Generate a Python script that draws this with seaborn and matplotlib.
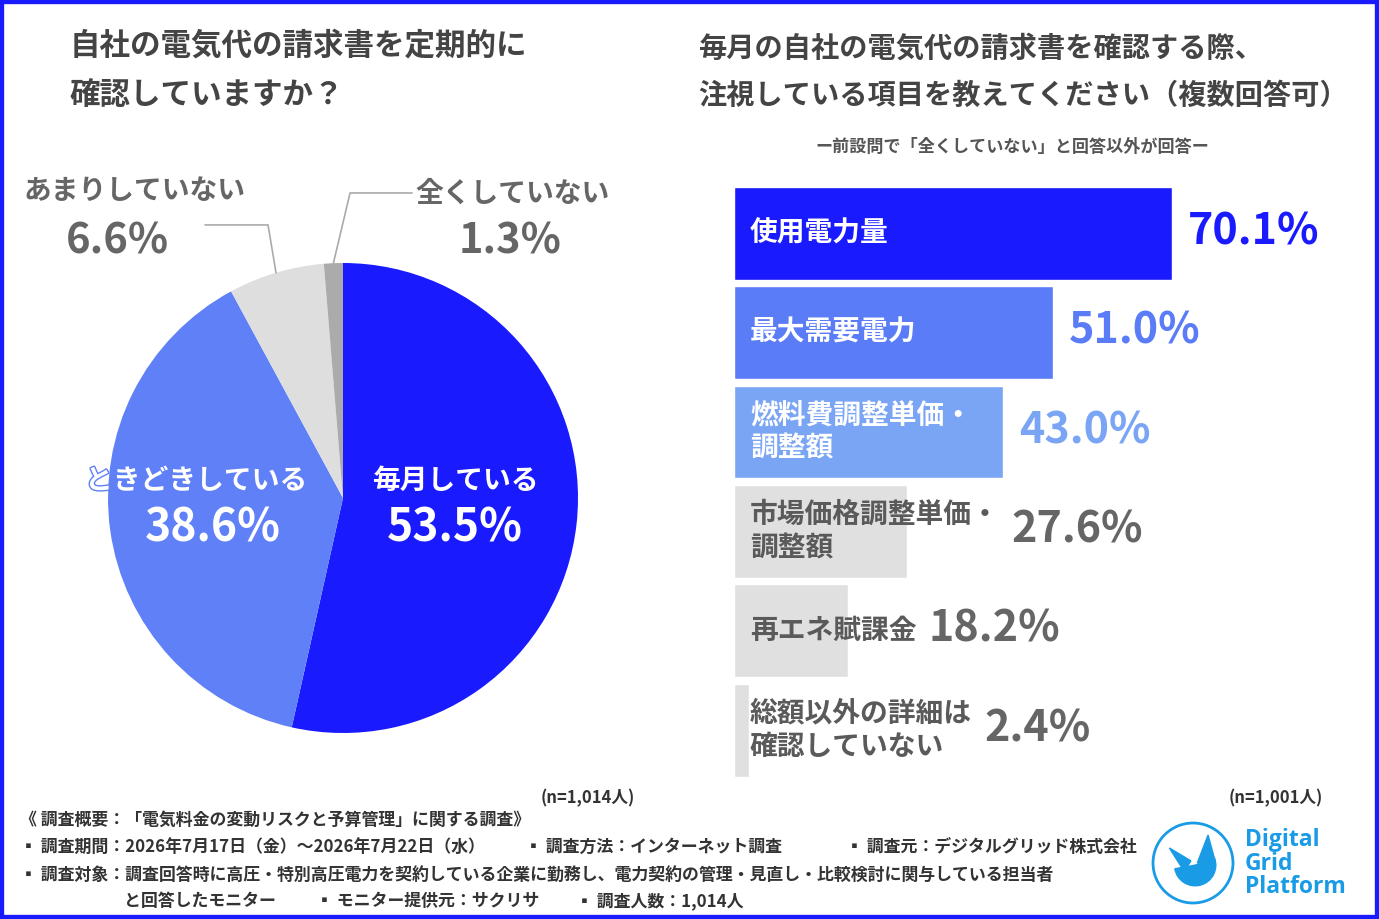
import numpy as np
import pandas as pd
import seaborn as sns
import matplotlib.pyplot as plt
from matplotlib.patches import Rectangle, Circle, Wedge, Polygon
import matplotlib.patheffects as pe

# data
pie_labels = ['毎月している', 'ときどきしている', 'あまりしていない', '全くしていない']
pie_vals = [53.5, 38.6, 6.6, 1.3]
pie_colors = ['#1a1aff', '#5f80f7', '#dedede', '#ababab']

bar_labels = ['使用電力量', '最大需要電力', '燃料費調整単価・\n調整額', '市場価格調整単価・\n調整額',
              '再エネ賦課金', '総額以外の詳細は\n確認していない']
bar_vals = [70.1, 51.0, 43.0, 27.6, 18.2, 2.4]
bar_colors = ['#1a1aff', '#5b7cf7', '#7aa5f5', '#e0e0e0', '#e0e0e0', '#e0e0e0']
bar_txt_colors = ['white', 'white', 'white', '#5a5a5a', '#5a5a5a', '#5a5a5a']
bar_val_colors = ['#1a1aff', '#5b7cf7', '#7aa5f5', '#666666', '#666666', '#666666']

title_left = ['自社の電気代の請求書を定期的に', '確認していますか？']
title_right = ['毎月の自社の電気代の請求書を確認する際、', '注視している項目を教えてください（複数回答可）']
sub_right = 'ー前設問で「全くしていない」と回答以外が回答ー'
n_left = '(n=1,014人)'
n_right = '(n=1,001人)'

sns.set_theme(style='white')
plt.rcParams['font.family'] = ['Noto Sans CJK JP', 'DejaVu Sans']

W, H = 1379, 919
fig = plt.figure(figsize=(W / 100, H / 100), dpi=100)
fig.patch.set_facecolor('white')


def fx(x):
    return x / W


def fy(y):
    return 1 - y / H


def box(x0, y0, x1, y1):
    return [x0 / W, 1 - y1 / H, (x1 - x0) / W, (y1 - y0) / H]


# titles
fig.text(fx(70), fy(46), title_left[0], fontsize=22, weight='bold', color='#444444', va='center')
fig.text(fx(70), fy(95), title_left[1], fontsize=22, weight='bold', color='#444444', va='center')
fig.text(fx(698), fy(49), title_right[0], fontsize=20.3, weight='bold', color='#444444', va='center')
fig.text(fx(698), fy(96), title_right[1], fontsize=20.3, weight='bold', color='#444444', va='center')
fig.text(fx(1012), fy(147), sub_right, fontsize=12.3, weight='bold', color='#555555', ha='center', va='center')

# pie
cx, cy, rad = 343, 498, 235
axp = fig.add_axes(box(cx - rad, cy - rad, cx + rad, cy + rad))
wedges, _ = axp.pie(pie_vals, colors=pie_colors, startangle=90, counterclock=False,
                    radius=1, wedgeprops=dict(linewidth=0))
axp.set_xlim(-1, 1)
axp.set_ylim(-1, 1)
axp.set_aspect('equal')
axp.axis('off')

# leader lines for the small slices
for w, knee, end in [(wedges[2], (-0.319, 1.162), (-0.587, 1.162)),
                     (wedges[3], (0.03, 1.298), (0.294, 1.298))]:
    ang = np.deg2rad((w.theta1 + w.theta2) / 2)
    sx, sy = np.cos(ang), np.sin(ang)
    axp.plot([sx, knee[0], end[0]], [sy, knee[1], end[1]], color='#aaaaaa', lw=1.2, clip_on=False)

big = dict(weight='bold', ha='center', va='center')
fig.text(fx(455), fy(481), pie_labels[0], fontsize=20, weight='bold', color='white', ha='center', va='center')
fig.text(fx(455), fy(529), f'{pie_vals[0]:.1f}%', fontsize=32, color='white', **big)
fig.text(fx(196), fy(481), pie_labels[1], fontsize=20, weight='bold', color='white', ha='center', va='center',
         path_effects=[pe.withStroke(linewidth=2, foreground=pie_colors[1])])
fig.text(fx(213), fy(529), f'{pie_vals[1]:.1f}%', fontsize=32, color='white', **big)
fig.text(fx(134), fy(191), pie_labels[2], fontsize=20, weight='bold', color='#666666', ha='center', va='center')
fig.text(fx(117), fy(241), f'{pie_vals[2]:.1f}%', fontsize=30, color='#666666', **big)
fig.text(fx(513), fy(194), pie_labels[3], fontsize=20, weight='bold', color='#666666', ha='center', va='center')
fig.text(fx(510), fy(242), f'{pie_vals[3]:.1f}%', fontsize=30, color='#666666', **big)

# bars
px_per = 6.25
bx0, by0, bx1 = 734, 183.5, 1379
axb = fig.add_axes(box(bx0, by0, bx1, by0 + 6 * 99.4))
df = pd.DataFrame({'item': bar_labels, 'pct': bar_vals})
sns.barplot(data=df, x='pct', y='item', hue='item', palette=bar_colors, orient='h',
            width=0.935, legend=False, ax=axb, saturation=1)
axb.set_xlim(0, (bx1 - bx0) / px_per)
axb.set_ylim(5.5, -0.5)
axb.axis('off')

txts = []
for i, (lab, c) in enumerate(zip(bar_labels, bar_txt_colors)):
    t = axb.annotate(lab, xy=(0, i), xytext=(16, 0), textcoords='offset pixels', fontsize=20,
                     weight='bold', color=c, va='center', ha='left', linespacing=1.25)
    txts.append(t)

fig.canvas.draw()
rend = fig.canvas.get_renderer()
for i, (t, v, c) in enumerate(zip(txts, bar_vals, bar_val_colors)):
    bb = t.get_window_extent(rend)
    bar_end = axb.transData.transform((v, i))[0]
    if i < 3:
        xd = bar_end + 4
    else:
        xd = max(bar_end, bb.x1)
    xv = axb.transData.inverted().transform((xd + 12, 0))[0]
    axb.annotate(f'{v:.1f}%', xy=(xv, i), xytext=(0, 2), textcoords='offset pixels', fontsize=31,
                 color=c, weight='bold', ha='left', va='center')

# n labels
fig.text(fx(588), fy(798), n_left, fontsize=12, weight='bold', color='#333333', ha='center', va='center')
fig.text(fx(1276), fy(798), n_right, fontsize=12, weight='bold', color='#333333', ha='center', va='center')

# footer
foot = dict(fontsize=12.2, weight='bold', color='#333333', va='center')
fig.text(fx(20), fy(820), '《 調査概要：「電気料金の変動リスクと予算管理」に関する調査》', **foot)
fig.text(fx(20), fy(847), '▪ 調査期間：2026年7月17日（金）〜2026年7月22日（水）', **foot)
fig.text(fx(525), fy(847), '▪ 調査方法：インターネット調査', **foot)
fig.text(fx(846), fy(847), '▪ 調査元：デジタルグリッド株式会社', **foot)
fig.text(fx(20), fy(875), '▪ 調査対象：調査回答時に高圧・特別高圧電力を契約している企業に勤務し、電力契約の管理・見直し・比較検討に関与している担当者', **foot)
fig.text(fx(124), fy(901), 'と回答したモニター', **foot)
fig.text(fx(316), fy(901), '▪ モニター提供元：サクリサ', **foot)
fig.text(fx(576), fy(901), '▪ 調査人数：1,014人', **foot)

# logo
logo_c = '#1a9be6'
axl = fig.add_axes(box(1150, 820, 1236, 906))
axl.set_xlim(-1, 1)
axl.set_ylim(-1, 1)
axl.set_aspect('equal')
axl.axis('off')
axl.add_patch(Circle((0, 0), 0.93, fill=False, edgecolor=logo_c, lw=2))
axl.add_patch(Wedge((0.05, -0.05), 0.48, 190, 20, color=logo_c))
axl.add_patch(Polygon([[-0.55, 0.35], [-0.05, 0.05], [-0.2, -0.2]], color=logo_c))
axl.add_patch(Polygon([[0.1, 0.0], [0.35, 0.65], [0.5, 0.1]], color=logo_c))
for k, s in enumerate(['Digital', 'Grid', 'Platform']):
    fig.text(fx(1245), fy(840 + 23.5 * k), s, fontsize=16.5, weight='bold', color=logo_c,
             family=['Open Sans', 'DejaVu Sans'], va='center')

# frame
fig.add_artist(Rectangle((0, 0), 1, 1, transform=fig.transFigure, fill=False,
                         edgecolor='#1a1aff', lw=6))

fig.savefig('out.png', dpi=100)
